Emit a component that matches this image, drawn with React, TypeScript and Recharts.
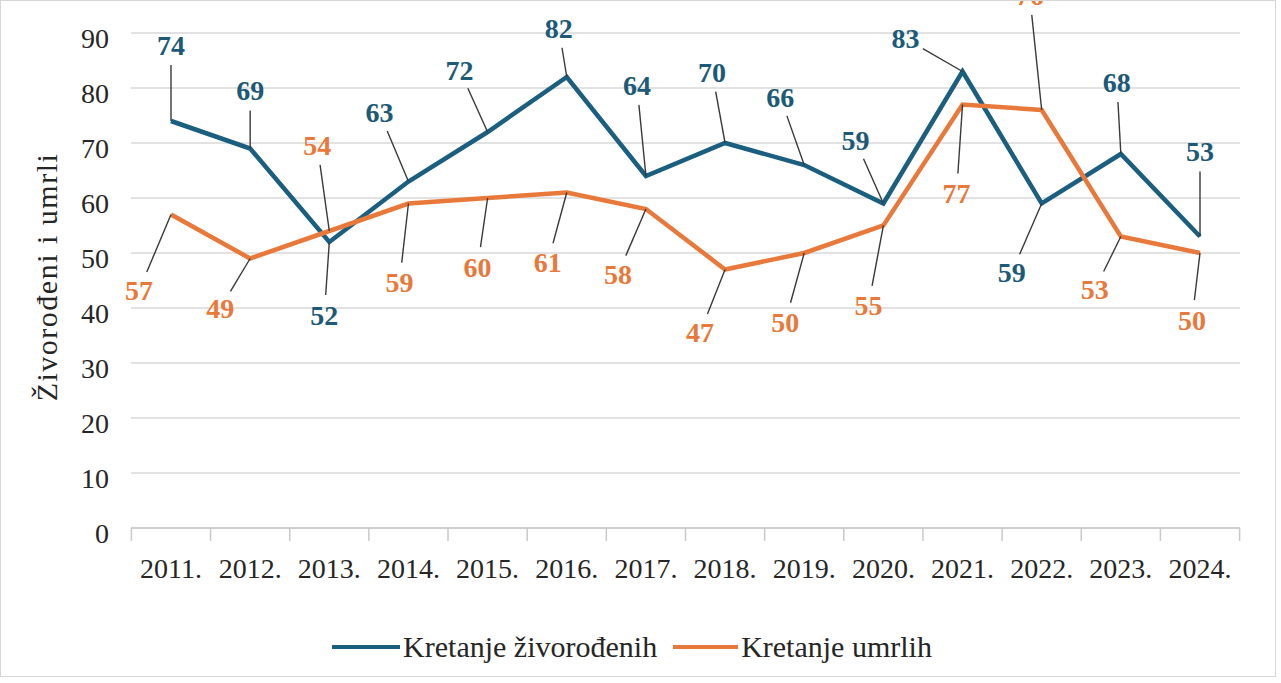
import { LineChart, Line, XAxis, YAxis, CartesianGrid, Legend } from 'recharts'

const FONT = "'Liberation Serif', 'Times New Roman', serif"
const BLUE = '#1a5e80'
const ORANGE = '#e8793a'
const HALF_STEP = 39.6

const years = ['2011.', '2012.', '2013.', '2014.', '2015.', '2016.', '2017.', '2018.', '2019.', '2020.', '2021.', '2022.', '2023.', '2024.']
const zivorodeni = [74, 69, 52, 63, 72, 82, 64, 70, 66, 59, 83, 59, 68, 53]
const umrli = [57, 49, 54, 59, 60, 61, 58, 47, 50, 55, 77, 76, 53, 50]
const yTicks = [0, 10, 20, 30, 40, 50, 60, 70, 80, 90]

// where each data label sits relative to its point (dx, dy in px)
const blueLabelPos = [
  [0, -76], [0, -58], [-5, 73], [-29, -69], [-28, -62], [-8, -49], [-9, -91],
  [-13, -71], [-24, -68], [-28, -63], [-57, -33], [-30, 69], [-4, -72], [0, -85],
]
const orangeLabelPos = [
  [-32, 76], [-30, 50], [-12, -86], [-9, 79], [-10, 69], [-19, 70], [-28, 65],
  [-25, 63], [-19, 69], [-15, 80], [-6, 89], [-12, -115], [-26, 53], [-8, 67],
]

const data = years.map((year, i) => ({ year, zivorodeni: zivorodeni[i], umrli: umrli[i] }))

const callout = (color: string, pos: number[][], key: string) => (props: any) => {
  const { cx, cy, index, payload } = props
  if (cx == null || cy == null) return <g key={`${key}-${index}`} />
  const [dx, dy] = pos[index]
  const len = Math.hypot(dx, dy)
  const k = (len - 20) / len
  return (
    <g key={`${key}-${index}`}>
      <line x1={cx} y1={cy} x2={cx + dx * k} y2={cy + dy * k} stroke="#3a3a3a" strokeWidth={1.4} />
      <text
        x={cx + dx} y={cy + dy} dy="0.34em" textAnchor="middle"
        fill={color} fontSize={28} fontWeight="bold" fontFamily={FONT}
      >
        {payload[key]}
      </text>
    </g>
  )
}

const XTick = (props: any) => {
  const { x, y, payload } = props
  const index = props.index ?? years.indexOf(payload.value)
  return (
    <g>
      <line x1={x - HALF_STEP} x2={x - HALF_STEP} y1={y} y2={y + 13} stroke="#c9c9c9" strokeWidth={1.5} />
      {index === years.length - 1 && (
        <line x1={x + HALF_STEP} x2={x + HALF_STEP} y1={y} y2={y + 13} stroke="#c9c9c9" strokeWidth={1.5} />
      )}
      <text x={x} y={y + 50} textAnchor="middle" fill="#262626" fontSize={28} fontFamily={FONT}>
        {payload.value}
      </text>
    </g>
  )
}

const YTick = (props: any) => {
  const { x, y, payload } = props
  return (
    <text x={x} y={y + 5} dy="0.34em" textAnchor="end" fill="#262626" fontSize={28} fontFamily={FONT}>
      {payload.value}
    </text>
  )
}

const renderLegend = () => (
  <div style={{ display: 'flex', justifyContent: 'center', alignItems: 'center', paddingRight: 12, fontFamily: FONT, fontSize: 30, color: '#262626' }}>
    <span style={{ display: 'inline-block', width: 68, height: 4, background: BLUE, marginRight: 3 }} />
    <span style={{ marginRight: 16 }}>Kretanje živorođenih</span>
    <span style={{ display: 'inline-block', width: 65, height: 4, background: ORANGE, marginRight: 3 }} />
    <span>Kretanje umrlih</span>
  </div>
)

export default function App() {
  return (
    <div style={{ position: 'absolute', left: 0, top: 0, width: 1281, height: 683, background: '#fff' }}>
      <LineChart width={1276} height={676} data={data} margin={{ top: 33, right: 36, bottom: 88, left: 0 }}>
        <CartesianGrid vertical={false} stroke="#d9d9d9" strokeWidth={1.5} />
        <XAxis
          dataKey="year" padding={{ left: 40, right: 40 }} height={60}
          axisLine={{ stroke: '#c9c9c9', strokeWidth: 1.5 }} tickLine={false} tickSize={0} tickMargin={0}
          tick={<XTick />} interval={0}
        />
        <YAxis
          width={131} domain={[0, 90]} ticks={yTicks} axisLine={false} tickLine={false}
          tickSize={0} tickMargin={22} tick={<YTick />}
        />
        <Legend
          layout="horizontal" verticalAlign="middle" align="center" content={renderLegend}
          wrapperStyle={{ top: 630, left: 0, width: 1276 }}
        />
        <Line
          type="linear" dataKey="zivorodeni" name="Kretanje živorođenih" stroke={BLUE} strokeWidth={4.5}
          dot={callout('#1d5a78', blueLabelPos, 'zivorodeni')} activeDot={false} isAnimationActive={false}
        />
        <Line
          type="linear" dataKey="umrli" name="Kretanje umrlih" stroke={ORANGE} strokeWidth={4.5}
          dot={callout(ORANGE, orangeLabelPos, 'umrli')} activeDot={false} isAnimationActive={false}
        />
      </LineChart>
      <div
        style={{
          position: 'absolute', left: 47, top: 277, transform: 'translate(-50%, -50%) rotate(-90deg)',
          whiteSpace: 'nowrap', fontFamily: FONT, fontSize: 30, color: '#262626', letterSpacing: 1.5,
        }}
      >
        Živorođeni i umrli
      </div>
      <div style={{ position: 'absolute', left: 0, top: 0, width: 1276, height: 677, border: '1px solid #d6d6d6', boxSizing: 'border-box', pointerEvents: 'none' }} />
    </div>
  )
}
